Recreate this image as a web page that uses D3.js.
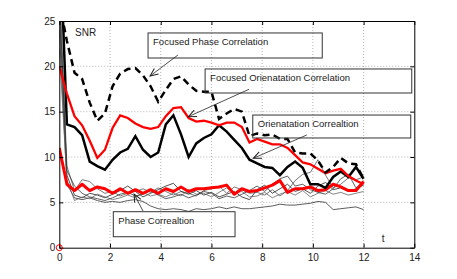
<!DOCTYPE html>
<html>
<head>
<meta charset="utf-8">
<script src="https://cdn.jsdelivr.net/npm/d3@7"></script>
<style>
  body { margin: 0; background: #fff; }
  text { font-family: "Liberation Sans", Arial, sans-serif; }
</style>
</head>
<body>
<svg id="chart" width="457" height="279"></svg>
<script>
// time samples (t)
const t = [0, 0.3, 0.6, 0.9, 1.2, 1.5, 1.8, 2.1, 2.4, 2.7, 3.0, 3.3, 3.6, 3.9, 4.2, 4.5, 4.8, 5.1, 5.4, 5.7,
  6.0, 6.3, 6.6, 6.9, 7.2, 7.5, 7.8, 8.1, 8.4, 8.7, 9.0, 9.3, 9.6, 9.9, 10.2, 10.5, 10.8, 11.1, 11.4, 11.7, 12.0]

// Focused Phase Correlation (dashed)
const focusedPhase = [27, 22.8, 19.3, 18.6, 16.0, 14.0, 14.8, 17.8, 19.2, 19.7, 19.8, 19.0, 17.8, 16.1, 17.4, 18.6,
  18.9, 18.0, 17.3, 17.2, 17.2, 14.2, 14.8, 15.3, 15.0, 12.3, 12.6, 12.4, 12.5, 12.0, 12.0, 10.5, 10.4, 10.4, 9.6,
  8.3, 8.9, 9.9, 9.3, 9.2, 7.6]

// Focused Orienatation Correlation (red)
const focusedOrient = [20.0, 17.0, 14.5, 13.5, 11.8, 9.9, 10.8, 13.2, 14.6, 14.3, 13.7, 13.3, 13.1, 13.3, 14.5, 15.4,
  15.5, 14.3, 13.9, 14.0, 13.8, 13.5, 13.8, 13.8, 13.3, 11.6, 12.0, 11.7, 11.4, 11.4, 11.0, 10.2, 9.4, 9.2, 8.7,
  8.2, 8.5, 8.7, 7.9, 7.4, 7.0]

// Orienatation Correaltion (black)
const orient = [36, 13.6, 13.3, 12.4, 9.5, 9.0, 8.6, 9.7, 10.5, 10.9, 12.3, 10.8, 10.0, 10.5, 13.6, 14.6,
  12.5, 10.0, 11.5, 12.1, 12.5, 13.5, 12.8, 11.9, 11.0, 9.7, 9.3, 8.9, 8.8, 8.0, 8.9, 9.5, 8.8, 7.0, 7.0,
  6.6, 7.8, 8.4, 7.8, 8.9, 7.6]

// lower red curve
const redLow = [11.0, 7.0, 6.3, 7.0, 6.3, 6.7, 6.5, 6.0, 6.5, 6.0, 6.4, 6.0, 6.4, 6.0, 6.5, 6.2,
  6.7, 6.2, 6.5, 6.5, 6.6, 6.7, 6.9, 5.9, 6.5, 6.2, 6.3, 6.6, 6.9, 7.4, 6.1, 6.5, 6.5, 6.7, 6.3,
  6.4, 7.0, 6.7, 6.3, 6.3, 7.3]

// Phase Correaltion (thin curves)
const phase1 = [24, 7.0, 5.5, 5.3, 5.5, 5.2, 5.0, 5.1, 5.0, 5.2, 5.3, 5.1, 4.6, 4.3, 4.2, 4.3,
  4.2, 4.0, 4.3, 4.2, 4.3, 4.5, 4.3, 4.5, 4.3, 4.3, 4.4, 4.5, 4.6, 4.8, 4.7, 4.7, 4.8, 4.9, 5.1,
  5.0, 4.2, 4.3, 4.4, 4.5, 4.2]
const phase2 = [30, 9.0, 6.3, 7.5, 7.3, 6.5, 6.0, 6.2, 5.7, 6.0, 6.2, 6.5, 6.1, 6.6, 6.2, 5.8,
  6.2, 6.0, 5.7, 6.3, 6.5, 6.8, 6.0, 6.7, 6.4, 6.0, 6.1, 5.8, 6.4, 5.7, 6.3, 7.4, 8.1, 8.3, 9.7,
  8.0, 6.6, 7.0, 7.7, 7.5, 7.8]
const phase3 = [28, 8.0, 5.8, 5.5, 6.0, 5.8, 5.5, 5.9, 6.3, 6.8, 6.2, 5.6, 6.0, 6.4, 6.8, 7.1,
  6.2, 5.9, 6.3, 5.8, 6.1, 5.6, 5.9, 6.2, 5.6, 5.3, 6.4, 6.9, 6.0, 6.5, 7.0, 6.2, 6.5, 6.0, 6.8,
  7.2, 6.4, 6.6, 6.2, 6.5, 6.9]
const phase4 = [22, 7.5, 5.2, 5.6, 5.4, 5.9, 5.6, 5.3, 5.5, 5.8, 5.5, 6.1, 5.7, 5.9, 5.6, 6.0,
  5.7, 6.4, 5.9, 6.0, 5.6, 6.1, 6.6, 6.0, 6.2, 5.6, 5.7, 6.1, 5.5, 5.9, 6.2, 5.8, 6.3, 5.6, 6.0,
  6.3, 5.9, 6.1, 5.8, 6.0, 6.2]
const phase5 = [26, 8.5, 6.8, 6.0, 5.6, 5.4, 5.2, 5.5, 5.9, 6.1, 5.7, 5.9, 6.3, 5.8, 5.4, 5.6,
  5.9, 5.5, 5.8, 6.2, 6.0, 5.4, 5.7, 5.5, 5.9, 6.3, 6.8, 6.2, 7.0, 7.6, 7.9, 6.8, 7.0, 6.4, 6.1,
  5.9, 6.5, 7.6, 8.1, 6.6, 7.2]

const xTicks = [0, 2, 4, 6, 8, 10, 12, 14]
const yTicks = [0, 5, 10, 15, 20, 25]

// text boxes with arrows, in data units
const notes = [
  { text: 'Focused Phase Correlation', x0: 3.5, x1: 10.37, y0: 23.68, y1: 20.92, from: [4.68, 21.25], to: [3.58, 18.93] },
  { text: 'Focused Orienatation Correlation', x0: 5.75, x1: 13.9, y0: 19.71, y1: 17.06, from: [7.48, 17.47], to: [5.09, 14.45] },
  { text: 'Orienatation Correaltion', x0: 7.63, x1: 13.86, y0: 14.63, y1: 12.1, from: [9.76, 12.43], to: [7.65, 9.86] },
  { text: 'Phase Correaltion', x0: 2.13, x1: 6.93, y0: 3.97, y1: 1.21, from: [3.3, 4.05], to: [2.95, 5.92] }
]

const svg = d3.select('#chart')
const pLeft = 59.3, pRight = 414.3, pTop = 21, pBottom = 247.7

const x = d3.scaleLinear().domain([0, 14]).range([pLeft, pRight])
const y = d3.scaleLinear().domain([0, 25]).range([pBottom, pTop])

let defs = svg.append('defs')
defs.append('clipPath').attr('id', 'plotclip')
  .append('rect')
  .attr('x', pLeft).attr('y', pTop)
  .attr('width', pRight - pLeft).attr('height', pBottom - pTop)

// arrow heads
defs.append('marker')
  .attr('id', 'head')
  .attr('viewBox', '-10 -5 12 10')
  .attr('markerWidth', 12).attr('markerHeight', 10)
  .attr('markerUnits', 'userSpaceOnUse')
  .attr('orient', 'auto')
  .append('path')
  .attr('d', 'M-8,-3.5L0,0L-8,3.5')
  .attr('fill', 'none')
  .attr('stroke', '#222')
  .attr('stroke-width', 1)

// grid
let grid = svg.append('g').attr('class', 'grid')
grid.selectAll('.gx').data(xTicks.slice(1, -1)).join('line')
  .attr('class', 'gx')
  .attr('x1', d => x(d)).attr('x2', d => x(d))
  .attr('y1', pTop).attr('y2', pBottom)
grid.selectAll('.gy').data(yTicks.slice(1, -1)).join('line')
  .attr('class', 'gy')
  .attr('x1', pLeft).attr('x2', pRight)
  .attr('y1', d => y(d)).attr('y2', d => y(d))
grid.selectAll('line')
  .attr('stroke', '#b5b5b5')
  .attr('stroke-width', 1)
  .attr('stroke-dasharray', '1,2')

// series
let plot = svg.append('g').attr('clip-path', 'url(#plotclip)')
let line = d3.line().x((d, i) => x(t[i])).y(d => y(d))

const thin = [
  { v: phase1, c: '#333' },
  { v: phase2, c: '#555' },
  { v: phase3, c: '#222' },
  { v: phase4, c: '#666' },
  { v: phase5, c: '#3a3a3a' }
]
thin.forEach(s => {
  plot.append('path')
    .attr('d', line(s.v))
    .attr('fill', 'none')
    .attr('stroke', s.c)
    .attr('stroke-width', 0.8)
})

plot.append('path')
  .attr('d', line(redLow))
  .attr('fill', 'none')
  .attr('stroke', '#ff0000')
  .attr('stroke-width', 3)
  .attr('stroke-linejoin', 'round')

plot.append('path')
  .attr('d', line(orient))
  .attr('fill', 'none')
  .attr('stroke', '#000')
  .attr('stroke-width', 2.5)

plot.append('path')
  .attr('d', line(focusedOrient))
  .attr('fill', 'none')
  .attr('stroke', '#ff0000')
  .attr('stroke-width', 2.3)

plot.append('path')
  .attr('d', line(focusedPhase))
  .attr('fill', 'none')
  .attr('stroke', '#000')
  .attr('stroke-width', 2.5)
  .attr('stroke-dasharray', '7,4.5')

// axes, matlab style ticks inside, box on
let axL = svg.append('g').attr('transform', `translate(${pLeft},0)`)
  .call(d3.axisLeft(y).tickValues(yTicks).tickSizeInner(-4).tickSizeOuter(0).tickPadding(4))
let axB = svg.append('g').attr('transform', `translate(0,${pBottom})`)
  .call(d3.axisBottom(x).tickValues(xTicks).tickSizeInner(-4).tickSizeOuter(0).tickPadding(6))
let axR = svg.append('g').attr('transform', `translate(${pRight},0)`)
  .call(d3.axisRight(y).tickValues(yTicks).tickSizeInner(-4).tickSizeOuter(0).tickFormat(''))
let axT = svg.append('g').attr('transform', `translate(0,${pTop})`)
  .call(d3.axisTop(x).tickValues(xTicks).tickSizeInner(-4).tickSizeOuter(0).tickFormat(''))

;[axL, axB, axR, axT].forEach(a => {
  a.select('.domain').attr('stroke', '#000').attr('stroke-width', 1)
  a.selectAll('.tick line').attr('stroke', '#000')
  a.selectAll('.tick text')
    .attr('font-family', '"Liberation Sans", Arial, sans-serif')
    .attr('font-size', 10)
    .attr('fill', '#222')
})

// red marker at origin
svg.append('circle')
  .attr('cx', x(0)).attr('cy', y(0)).attr('r', 3)
  .attr('fill', 'none').attr('stroke', '#ff0000').attr('stroke-width', 1)

// labels
svg.append('text')
  .attr('x', x(0.62)).attr('y', y(23.3))
  .attr('font-size', 10).attr('fill', '#222')
  .text('SNR')
svg.append('text')
  .attr('x', x(12.72)).attr('y', y(0.62))
  .attr('font-size', 10).attr('fill', '#222')
  .text('t')

// annotations
let ann = svg.append('g').attr('class', 'notes')
notes.forEach(n => {
  ann.append('rect')
    .attr('x', x(n.x0)).attr('y', y(n.y0))
    .attr('width', x(n.x1) - x(n.x0))
    .attr('height', y(n.y1) - y(n.y0))
    .attr('fill', 'none')
    .attr('stroke', '#333')
    .attr('stroke-width', 1)
  ann.append('text')
    .attr('x', x(n.x0) + 5)
    .attr('y', y(n.y0) + 12)
    .attr('font-size', 9.5)
    .attr('fill', '#222')
    .text(n.text)
  ann.append('line')
    .attr('x1', x(n.from[0])).attr('y1', y(n.from[1]))
    .attr('x2', x(n.to[0])).attr('y2', y(n.to[1]))
    .attr('stroke', '#222')
    .attr('stroke-width', 0.8)
    .attr('marker-end', 'url(#head)')
})
</script>
</body>
</html>
